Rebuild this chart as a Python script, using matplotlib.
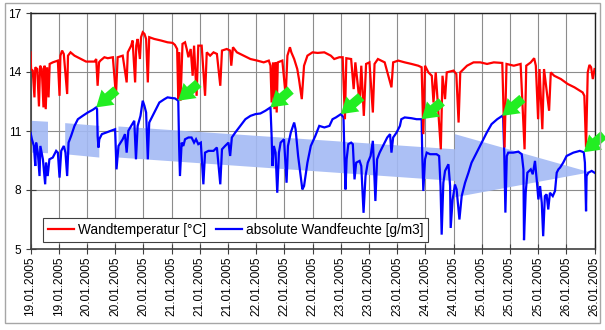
import matplotlib
matplotlib.use('Agg')
import matplotlib.pyplot as plt
from matplotlib.patches import Rectangle
from matplotlib.lines import Line2D

plt.rcParams['font.family'] = ['Liberation Sans', 'DejaVu Sans']

# ---------------- data ----------------
tick_labels = ['19.01.2005', '19.01.2005', '20.01.2005', '20.01.2005', '20.01.2005',
               '21.01.2005', '21.01.2005', '21.01.2005', '22.01.2005', '22.01.2005',
               '22.01.2005', '23.01.2005', '23.01.2005', '23.01.2005', '24.01.2005',
               '24.01.2005', '25.01.2005', '25.01.2005', '25.01.2005', '26.01.2005',
               '26.01.2005']
y_ticks = [5, 8, 11, 14, 17]

# position along the time axis (in tick units) and Wandtemperatur [°C]
temp_t = [0.00, 0.02, 0.08, 0.14, 0.17, 0.24, 0.30, 0.34, 0.40, 0.46,
          0.50, 0.54, 0.59, 0.64, 0.68, 0.79, 0.97, 1.03, 1.06, 1.12,
          1.18, 1.30, 1.33, 1.42, 1.56, 1.79, 1.97, 2.27, 2.33, 2.38,
          2.43, 2.48, 2.62, 2.74, 2.92, 3.03, 3.09, 3.27, 3.41, 3.45,
          3.57, 3.62, 3.71, 3.75, 3.80, 3.88, 3.92, 3.98, 4.04, 4.10,
          4.16, 4.21, 4.39, 4.63, 4.86, 5.04,
          5.12, 5.20, 5.24, 5.27, 5.32, 5.39, 5.48, 5.54, 5.60, 5.68,
          5.75, 5.80, 5.89, 5.95, 6.07, 6.19, 6.25, 6.37, 6.49, 6.61,
          6.73, 6.79, 6.96, 7.08, 7.12, 7.18, 7.32, 7.56, 7.80, 8.04,
          8.27, 8.45, 8.51, 8.55, 8.60, 8.65, 8.69, 8.73, 8.77, 8.93,
          9.05, 9.11, 9.20, 9.25, 9.35, 9.46, 9.52, 9.62, 9.70, 9.82,
          10.00,
          10.18, 10.42, 10.65, 10.77, 10.95, 11.07, 11.15, 11.20, 11.37, 11.46,
          11.52, 11.67, 11.73, 11.82, 11.90, 12.02, 12.14, 12.20, 12.32, 12.56,
          12.80, 12.86, 13.04, 13.27, 13.51, 13.75, 13.87, 13.93, 13.99, 14.11,
          14.23, 14.29, 14.37, 14.55, 14.61, 14.70, 14.76, 15.00,
          15.10, 15.18, 15.24, 15.36, 15.48, 15.71, 15.95, 16.19, 16.43, 16.73,
          16.81, 16.88, 17.14, 17.38, 17.52, 17.58, 17.74, 17.86, 17.92, 18.00,
          18.05, 18.15, 18.21, 18.39, 18.45, 18.57, 18.81, 19.05, 19.29, 19.58,
          19.64, 19.70, 19.76, 19.82, 19.88, 19.94, 20.00]
temp_v = [15.00, 14.15, 14.07, 12.71, 14.24, 14.15, 12.25, 14.32, 14.15, 12.20,
          14.32, 12.11, 14.24, 12.71, 14.41, 14.49, 14.58, 12.79, 14.83, 15.09,
          14.92, 12.88, 14.83, 15.00, 14.83, 14.66, 14.53, 14.53, 14.66, 13.30,
          14.49, 14.58, 14.75, 14.70, 14.75, 12.79, 14.75, 14.83, 13.47, 15.00,
          15.34, 15.60, 13.47, 15.34, 15.68, 14.66, 15.77, 16.02, 15.94, 15.68,
          13.47, 15.77, 15.68, 15.60, 15.51, 15.48,
          15.38, 15.17, 12.62, 15.00, 12.54, 15.43, 15.51, 15.17, 14.75, 15.17,
          13.81, 15.34, 12.79, 15.34, 15.34, 12.79, 15.00, 14.83, 15.00, 14.92,
          13.30, 15.09, 15.17, 15.09, 14.32, 15.26, 15.00, 14.83, 14.66, 14.58,
          14.49, 14.58, 14.32, 12.45, 14.49, 12.11, 14.49, 11.94, 14.49, 14.58,
          12.79, 14.83, 15.26, 15.00, 14.66, 14.15, 13.64, 12.62, 14.32, 14.83,
          15.00,
          14.97, 15.00, 14.83, 14.66, 14.75, 14.75, 11.60, 14.70, 14.66, 13.13,
          14.49, 12.45, 14.32, 11.77, 14.41, 14.49, 11.94, 14.41, 14.66, 14.49,
          13.22, 14.49, 14.58, 14.49, 14.41, 14.32, 14.24, 10.84, 14.32, 13.98,
          13.81, 12.45, 13.98, 10.07, 13.81, 12.62, 13.98, 14.07,
          13.90, 11.43, 13.98, 14.15, 14.32, 14.49, 14.49, 14.41, 14.49, 14.46,
          10.16, 14.41, 14.32, 14.41, 10.07, 14.32, 14.49, 14.70, 14.32, 11.60,
          14.15, 11.09, 14.15, 12.03, 13.98, 13.81, 13.64, 13.39, 13.22, 12.96,
          12.79, 10.16, 13.98, 14.36, 14.24, 13.64, 14.15]

# absolute Wandfeuchte [g/m3]
hum_t = [0.00, 0.05, 0.12, 0.17, 0.20, 0.26, 0.32, 0.35, 0.44, 0.52,
         0.55, 0.61, 0.67, 0.79, 0.91, 0.97, 1.03, 1.09, 1.18, 1.24,
         1.30, 1.35, 1.44, 1.56, 1.68, 1.85, 2.03, 2.21, 2.33, 2.36,
         2.38, 2.41, 2.44, 2.53, 2.68, 2.86, 3.00, 3.05, 3.12, 3.27,
         3.35, 3.41, 3.47, 3.57, 3.68, 3.74, 3.80, 3.90, 3.98, 4.04,
         4.10, 4.16, 4.21, 4.33, 4.45, 4.57, 4.75, 4.86, 5.04,
         5.12, 5.24, 5.27, 5.30, 5.36, 5.42, 5.48, 5.60, 5.71, 5.80,
         5.87, 5.95, 6.04, 6.13, 6.19, 6.31, 6.49, 6.61, 6.73, 6.79,
         6.90, 7.02, 7.08, 7.14, 7.26, 7.44, 7.62, 7.80, 7.98, 8.15,
         8.33, 8.51, 8.55, 8.58, 8.63, 8.69, 8.75, 8.81, 8.87, 8.99,
         9.08, 9.13, 9.23, 9.35, 9.40, 9.49, 9.58, 9.64, 9.70, 9.82,
         9.94,
         10.10, 10.24, 10.42, 10.60, 10.71, 10.83, 11.01, 11.10, 11.13, 11.17,
         11.21, 11.27, 11.37, 11.43, 11.49, 11.55, 11.67, 11.73, 11.81, 11.88,
         11.96, 12.06, 12.14, 12.18, 12.23, 12.29, 12.38, 12.50, 12.65, 12.75,
         12.80, 12.86, 12.98, 13.10, 13.15, 13.27, 13.51, 13.69, 13.87, 13.89,
         13.93, 13.99, 14.05, 14.17, 14.29, 14.40, 14.49,
         14.54, 14.58, 14.64, 14.70, 14.82, 14.88, 14.90, 14.97, 15.05, 15.11,
         15.21, 15.29, 15.41, 15.53, 15.64, 15.82, 16.00, 16.18, 16.35, 16.55,
         16.73, 16.76, 16.80, 16.84, 16.89, 16.94, 17.12, 17.30, 17.42, 17.48,
         17.50, 17.56, 17.62, 17.74, 17.81, 17.89, 17.95, 18.01, 18.07, 18.13,
         18.18, 18.24, 18.30, 18.36, 18.42, 18.52, 18.60, 18.66, 18.72, 18.78,
         18.89, 19.01, 19.25, 19.48, 19.62, 19.66, 19.70, 19.72, 19.78, 19.90,
         20.00]
hum_v = [10.92, 10.58, 10.24, 9.22, 10.41, 9.90, 8.71, 10.24, 9.56, 8.29,
         9.39, 8.71, 9.56, 9.65, 9.99, 9.90, 8.63, 9.99, 10.24, 9.90,
         8.71, 10.41, 10.75, 11.26, 11.60, 11.77, 11.94, 12.08, 12.20, 12.11,
         10.75, 10.16, 10.58, 10.84, 10.92, 11.01, 11.09, 9.05, 10.24, 10.58,
         10.84, 9.90, 11.01, 11.26, 11.52, 9.56, 11.26, 11.77, 12.54, 12.28,
         11.94, 9.56, 11.43, 11.77, 12.11, 12.45, 12.62, 12.71, 12.67,
         12.66, 12.54, 10.24, 8.71, 10.41, 10.24, 10.58, 10.67, 10.67, 10.41,
         10.58, 10.33, 10.41, 8.29, 9.90, 9.99, 9.99, 10.16, 8.29, 10.07,
         10.24, 10.41, 9.73, 10.67, 10.92, 11.26, 11.60, 11.77, 11.86, 11.89,
         12.03, 12.20, 10.75, 9.22, 10.24, 9.90, 7.86, 9.90, 10.41, 10.58,
         8.37, 10.24, 10.92, 11.43, 11.09, 9.73, 8.71, 8.03, 8.20, 9.39,
         10.24,
         10.75, 11.26, 11.18, 11.26, 11.60, 11.69, 11.86, 11.69, 9.90, 8.03,
         9.56, 10.33, 10.41, 10.33, 8.54, 9.39, 9.48, 9.22, 6.84, 8.71,
         9.39, 9.73, 10.50, 9.22, 7.44, 9.56, 9.90, 10.24, 10.67, 10.84,
         9.90, 10.67, 10.92, 11.26, 11.60, 11.69, 11.65, 11.60, 11.60, 9.90,
         7.95, 9.56, 9.90, 9.82, 9.82, 9.82, 9.73,
         8.20, 5.73, 8.37, 8.97, 9.31, 8.20, 6.07, 7.52, 8.28, 8.03,
         6.50, 7.69, 8.37, 8.88, 9.39, 9.90, 10.41, 10.92, 11.35, 11.60,
         11.77, 11.69, 9.90, 6.85, 9.73, 9.90, 9.90, 9.95, 9.82, 9.05,
         5.45, 7.86, 8.88, 9.05, 8.80, 9.48, 8.54, 7.52, 8.20, 7.35,
         5.65, 7.69, 7.78, 7.01, 7.86, 7.69, 7.95, 8.88, 9.05, 9.14,
         9.39, 9.73, 9.90, 9.99, 9.92, 9.39, 6.92, 8.71, 8.88, 8.97,
         8.88]

# green arrow targets (humidity peaks)
arrow_t = [2.33, 5.24, 8.51, 11.01, 13.87, 16.73, 19.62]
arrow_v = [12.20, 12.54, 12.20, 11.86, 11.60, 11.77, 9.92]

# shaded trend band (pieces) and arrow head
band_pieces_t = [[0.00, 0.62], [1.23, 2.44], [3.12, 15.05]]
band_pieces_top = [[11.52, 11.47], [11.40, 11.26], [11.23, 10.07]]
band_pieces_bot = [[9.90, 9.87], [9.82, 9.65], [9.65, 8.46]]
head_t = [15.05, 19.84, 15.05]
head_v = [10.84, 8.90, 7.63]

# ---------------- figure ----------------
W, H = 605, 330
fig = plt.figure(figsize=(W / 100, H / 100), dpi=100)
fig.patch.set_facecolor('white')
ax = fig.add_axes([30.5 / W, 1 - 249 / H, 564 / W, 236 / H])

# outer chart frame
fig.patches.append(Rectangle((5 / W, 7 / H), 595 / W, 320 / H, transform=fig.transFigure,
                             fill=False, edgecolor='#a6a6a6', lw=1.0))

band_color = '#a3b9f4'
for bt, btop, bbot in zip(band_pieces_t, band_pieces_top, band_pieces_bot):
    ax.fill(bt + bt[::-1], btop + bbot[::-1], color=band_color, alpha=0.9,
            lw=0, zorder=2)
ax.fill(head_t, head_v, color=band_color, alpha=0.9, lw=0, zorder=2)

ax.plot(hum_t, hum_v, color='#0000ff', lw=1.6, zorder=3, solid_joinstyle='miter')
ax.plot(temp_t, temp_v, color='#ff0000', lw=1.6, zorder=4, solid_joinstyle='miter')

for at, av in zip(arrow_t, arrow_v):
    ax.annotate('', xy=(at, av), xytext=(14.5, 12.5), textcoords='offset points',
                arrowprops=dict(arrowstyle='simple,head_length=0.9,head_width=1.15,tail_width=0.55',
                                mutation_scale=12.5, fc='#22ee22', ec='none',
                                shrinkA=0, shrinkB=0), zorder=5)

ax.set_xlim(0, 20)
ax.set_ylim(5, 17)
ax.set_xticks(range(len(tick_labels)))
ax.set_xticklabels(tick_labels, rotation=90, fontsize=8.6)
ax.set_yticks(y_ticks)
ax.tick_params(axis='x', direction='inout', length=7, pad=2, width=0.8, color='#404040')
ax.tick_params(axis='y', direction='inout', length=7, pad=3, width=0.8, color='#404040',
               labelsize=8.6)
ax.grid(True, color='#8c8c8c', lw=0.8)
ax.set_axisbelow(True)
for side in ['left', 'bottom']:
    ax.spines[side].set_color('#404040')
    ax.spines[side].set_linewidth(1.2)
for side in ['right', 'top']:
    ax.spines[side].set_color('#202020')
    ax.spines[side].set_linewidth(1.0)

handles = [Line2D([], [], color='#ff0000', lw=1.6), Line2D([], [], color='#0000ff', lw=1.6)]
leg = ax.legend(handles, ['Wandtemperatur [°C]', 'absolute Wandfeuchte [g/m3]'],
                loc='lower left', bbox_to_anchor=(0.022, 0.030), borderaxespad=0,
                ncol=2, fontsize=9.8, handlelength=1.9, handletextpad=0.3,
                columnspacing=0.75, borderpad=0.35, fancybox=False, framealpha=1)
leg.get_frame().set_edgecolor('#404040')
leg.get_frame().set_linewidth(0.8)
leg.set_zorder(6)

fig.savefig('out.png', dpi=100)
